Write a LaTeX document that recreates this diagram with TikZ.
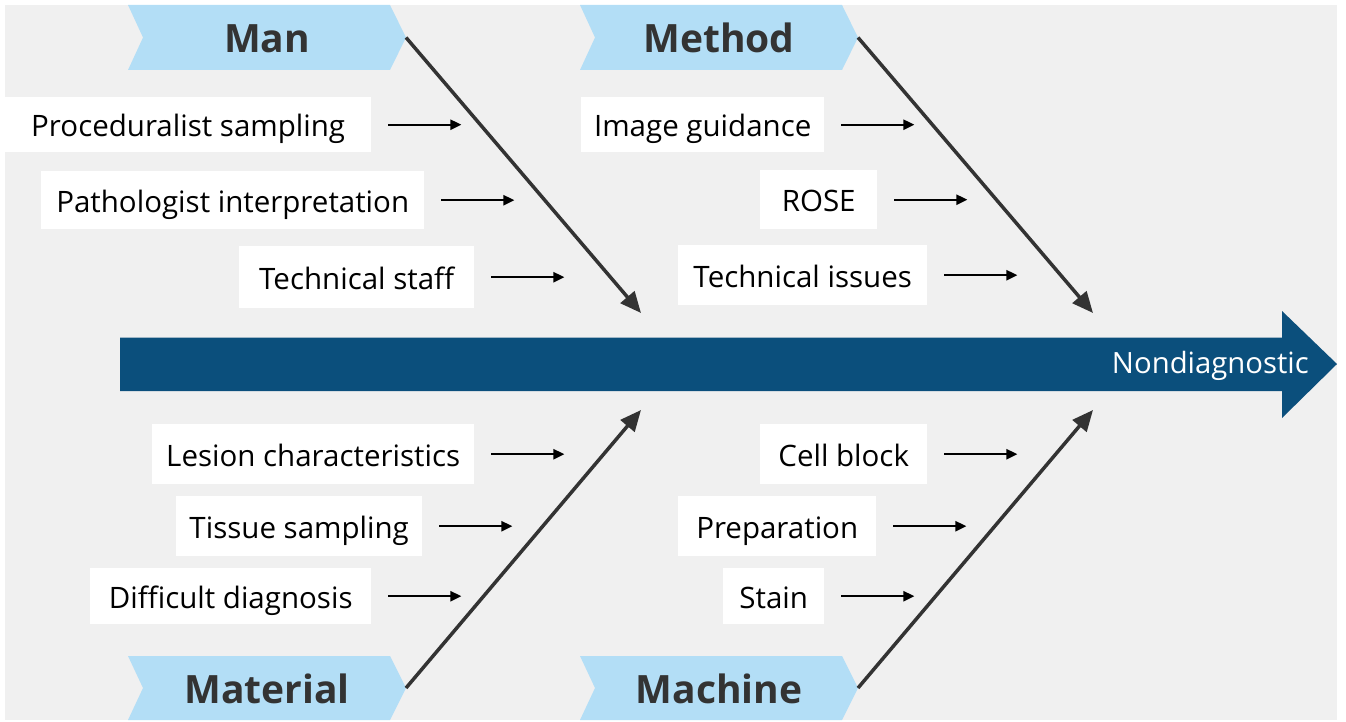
\documentclass[tikz,border=0pt]{standalone}
\usepackage{fontspec}
\setmainfont{Open Sans}
\usetikzlibrary{arrows.meta}
\definecolor{bg}{HTML}{F0F0F0}
\definecolor{spinecol}{HTML}{0B4F7C}
\definecolor{chev}{HTML}{B3DEF6}
\definecolor{dark}{HTML}{333333}
\begin{document}
\begin{tikzpicture}[x=1pt,y=-1pt,
  lbl/.style={fill=white, inner sep=0pt, anchor=north west,
    font=\fontsize{29.5}{32}\selectfont, text=black, text height=24pt, text depth=0pt},
  heading/.style={inner sep=0pt, font=\fontsize{39}{42}\selectfont\bfseries, text=dark,
    text height=31pt, text depth=0pt},
  smallarr/.style={-{Triangle[length=11pt,width=10pt]}, line width=2.3pt, black},
  bone/.style={-{Triangle[length=21pt,width=18pt]}, line width=3.5pt, dark},
  chevron/.style={fill=chev}]
\useasboundingbox (0,0) rectangle (1346,722);
\fill[bg] (5,5) rectangle (1337,720);

% spine
\fill[spinecol] (120,337.5) -- (1282,337.5) -- (1282,311) -- (1337,364) -- (1282,418) -- (1282,391) -- (120,391) -- cycle;
\node[inner sep=0pt, anchor=east, text=white, font=\fontsize{29.3}{31}\selectfont,
  text height=18.5pt, text depth=0pt] (effect) at (1309,364) {Nondiagnostic};

% chevrons
\fill[chevron] (128,5) -- (390,5) -- (406,37.5) -- (390,70) -- (128,70) -- (143,37.5) -- cycle;
\node[heading] (man) at (267,37.5) {Man};
\coordinate (mantip) at (406,37.5);
\coordinate (manend) at (641,313);

\fill[chevron] (580,5) -- (842,5) -- (858,37.5) -- (842,70) -- (580,70) -- (595,37.5) -- cycle;
\node[heading] (method) at (719,37.5) {Method};
\coordinate (methodtip) at (858,37.5);
\coordinate (methodend) at (1093,313);

\fill[chevron] (128,656) -- (390,656) -- (406,688) -- (390,720) -- (128,720) -- (143,688) -- cycle;
\node[heading] (material) at (267,688) {Material};
\coordinate (materialtip) at (406,688);
\coordinate (materialend) at (641,410);

\fill[chevron] (580,656) -- (842,656) -- (858,688) -- (842,720) -- (580,720) -- (595,688) -- cycle;
\node[heading] (machine) at (719,688) {Machine};
\coordinate (machinetip) at (858,688);
\coordinate (machineend) at (1093,410);

\draw[bone] (mantip) -- (manend);
\draw[bone] (methodtip) -- (methodend);
\draw[bone] (materialtip) -- (materialend);
\draw[bone] (machinetip) -- (machineend);

% cause boxes
\node[lbl, minimum width=366pt, minimum height=55pt] (proc) at (5,97) {Proceduralist sampling};
\node[lbl, minimum width=383pt, minimum height=58pt] (path) at (41,171) {Pathologist interpretation};
\node[lbl, minimum width=235pt, minimum height=62pt] (staff) at (239,246) {Technical staff};
\node[lbl, minimum width=243pt, minimum height=55pt] (img) at (581,97) {Image guidance};
\node[lbl, minimum width=117pt, minimum height=59pt] (rose) at (760,170) {ROSE};
\node[lbl, minimum width=249pt, minimum height=60pt] (issues) at (678,245) {Technical issues};
\node[lbl, minimum width=322pt, minimum height=60pt] (lesion) at (152,424) {Lesion characteristics};
\node[lbl, minimum width=246pt, minimum height=60pt] (tissue) at (176,496) {Tissue sampling};
\node[lbl, minimum width=281pt, minimum height=56pt] (diff) at (90,568) {Difficult diagnosis};
\node[lbl, minimum width=167pt, minimum height=60pt] (cell) at (760,424) {Cell block};
\node[lbl, minimum width=198pt, minimum height=60pt] (prep) at (678,496) {Preparation};
\node[lbl, minimum width=101pt, minimum height=56pt] (stain) at (723,568) {Stain};

% cause arrows
\foreach \n in {proc,path,staff,img,rose,issues,lesion,tissue,diff,cell,prep,stain}{
  \draw[smallarr] ([xshift=17pt]\n.east) -- ++(73,0);
}
\end{tikzpicture}
\end{document}
